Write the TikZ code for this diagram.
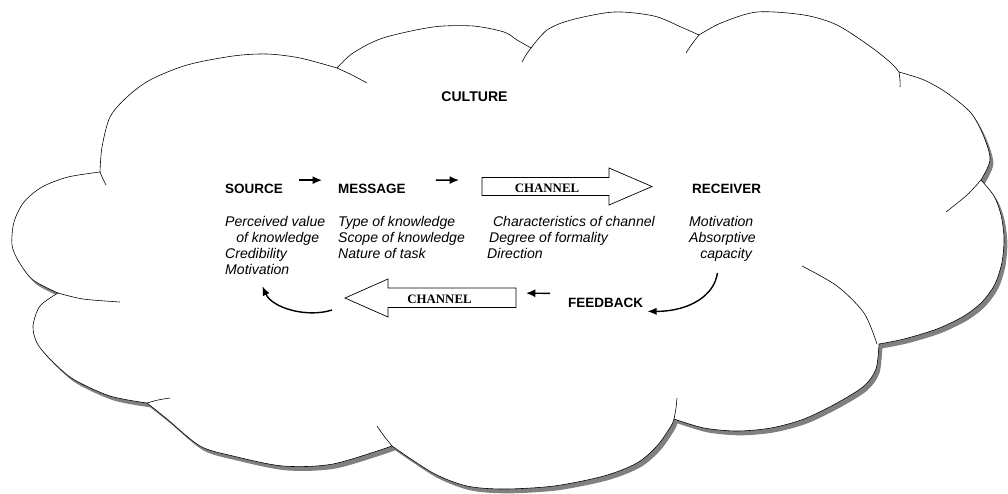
\documentclass[tikz,border=0pt]{standalone}
\usepackage{fontspec}
\setmainfont{Liberation Sans}
\newfontfamily\timesfont{Liberation Serif}
\usetikzlibrary{arrows.meta,shadows}

\begin{document}
\begin{tikzpicture}[x=0.03cm,y=-0.03cm,
    cloudline/.style={line width=0.5pt},
    lbl/.style={font=\fontsize{11.5}{13}\selectfont\bfseries,inner sep=0pt,anchor=base west},
    desc/.style={font=\fontsize{12}{13.6}\selectfont\itshape,align=left,inner sep=0pt,anchor=north west},
    chtxt/.style={font=\timesfont\fontsize{11}{13}\selectfont\bfseries,inner sep=0pt,anchor=base},
    chan/.style={line width=0.6pt},
    flow/.style={-{Latex[length=2.8mm,width=2.4mm]},line width=1.2pt},
    loopflow/.style={-{Latex[length=2.8mm,width=2.2mm]},line width=1.2pt}]
    \useasboundingbox (0,0) rectangle (1008,493);
    \clip (0,0) rectangle (1008,493);
    % cloud, one smooth arc per lobe
    \draw[cloudline,fill=white,drop shadow={shadow xshift=0.1cm,shadow yshift=-0.13cm,fill=black!50,opacity=1}]
        plot[smooth] coordinates {(58,293) (33,280) (19,262) (12,245) (14,222) (24,202) (42,187) (68,177) (100,172)}
        -- plot[smooth] coordinates {(100,172) (102,147) (110,117) (127,97) (150,80) (187,65) (233,56) (267,54) (300,58) (337,68)}
        -- plot[smooth] coordinates {(337,68) (353,53) (383,38) (433,27) (473,26) (504,32) (517,40) (531,48)}
        -- plot[smooth] coordinates {(531,48) (547,30) (571,20) (614,12) (654,16) (681,27) (699,35)}
        -- plot[smooth] coordinates {(699,35) (721,23) (757,12) (804,15) (837,25) (871,47) (891,63) (899,72)}
        -- plot[smooth] coordinates {(899,72) (924,80) (947,93) (971,113) (984,137) (990,160) (981,180)}
        -- plot[smooth] coordinates {(981,180) (994,196) (1001,215) (1004,238) (1002,262) (995,284) (982,302) (964,316) (937,329) (904,339) (879,344)}
        -- plot[smooth] coordinates {(879,344) (876,369) (864,386) (837,403) (804,419) (771,428) (737,431) (704,428) (674,419)}
        -- plot[smooth] coordinates {(674,419) (671,426) (657,446) (637,463) (604,476) (554,486) (504,489) (467,486) (433,473) (392,446)}
        -- plot[smooth] coordinates {(392,446) (333,464) (283,466) (233,456) (200,446) (167,419) (147,403)}
        -- plot[smooth] coordinates {(147,403) (110,396) (73,379) (50,359) (37,343) (33,326) (40,306) (58,293)}
        -- cycle;
    % arc ends running on inside the cloud
    \draw[cloudline] plot[smooth] coordinates {(100,172) (103,179) (106,185)};
    \draw[cloudline] plot[smooth] coordinates {(337,68) (352,75) (367,83)};
    \draw[cloudline] plot[smooth] coordinates {(531,48) (526,55) (522,62)};
    \draw[cloudline] plot[smooth] coordinates {(699,35) (692,44) (686,53)};
    \draw[cloudline] plot[smooth] coordinates {(899,72) (900,80) (900,87)};
    \draw[cloudline] plot[smooth] coordinates {(981,180) (967,195) (946,212)};
    \draw[cloudline] plot[smooth] coordinates {(802,266) (837,286) (864,313) (877,344)};
    \draw[cloudline] plot[smooth] coordinates {(674,419) (676,408) (677,398)};
    \draw[cloudline] plot[smooth] coordinates {(392,446) (384,436) (377,426)};
    \draw[cloudline] plot[smooth] coordinates {(147,403) (158,400) (170,398)};
    \draw[cloudline] plot[smooth] coordinates {(58,293) (83,299) (120,302)};

    \node[lbl,anchor=base,font=\fontsize{12}{14}\selectfont\bfseries] (cult) at (474.5,101.7) {CULTURE};

    \node[lbl] (src) at (225,193) {SOURCE};
    \node[lbl] (msg) at (338,193) {MESSAGE};
    \node[lbl] (rcv) at (692,193) {RECEIVER};
    \node[lbl] (fb) at (568,307) {FEEDBACK};

    \node[desc] (sdesc) at (225,216.5) {Perceived value\\\hspace*{9.4pt}of knowledge\\Credibility\\Motivation};
    \node[desc] (mdesc) at (338,216.5) {Type of knowledge\\Scope of knowledge\\Nature of task};
    \node[desc] (cdesc) at (487,216.5) {\hspace*{5pt}Characteristics of channel\\\hspace*{1.7pt}Degree of formality\\Direction};
    \node[desc] (rdesc) at (689,216.5) {Motivation\\Absorptive\\\hspace*{9.4pt}capacity};

    % channel arrows
    \draw[chan] (482,177.5) -- (609,177.5) -- (609,168) -- (652,186.5) -- (609,205) -- (609,195.5) -- (482,195.5) -- cycle;
    \node[chtxt] (ch1) at (547,192) {CHANNEL};
    \coordinate (ch1in) at (482,180);
    \draw[chan] (516,288) -- (388,288) -- (388,279) -- (345,298) -- (388,317) -- (388,307.5) -- (516,307.5) -- cycle;
    \node[chtxt] (ch2) at (439.5,303.5) {CHANNEL};
    \coordinate (ch2in) at (516,293);
    \coordinate (ch2tip) at (345,298);

    \draw[flow,shorten <=0.48cm,shorten >=0.48cm] ([yshift=7pt]src.east) -- ([yshift=7pt]msg.west);
    \draw[flow,shorten <=0.9cm,shorten >=0.69cm] ([yshift=7pt]msg.east) -- (ch1in);
    \draw[flow,shorten <=0.54cm,shorten >=0.3cm] ([yshift=7.5pt]fb.west) -- (ch2in);

    \draw[loopflow] ([shift={(-5,11)}]rdesc.south) .. controls +(-3,22) and +(43,0) .. ([shift={(4,9)}]fb.east);
    \draw[loopflow] ([shift={(-13,12)}]ch2tip) .. controls +(-25,8) and +(10,22) .. ([shift={(-13,11)}]sdesc.south);
\end{tikzpicture}
\end{document}
